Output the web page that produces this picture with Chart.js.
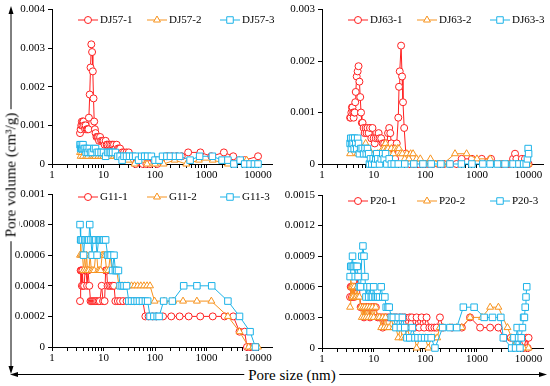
<!DOCTYPE html>
<html>
<head>
<meta charset="utf-8">
<script src="https://cdn.jsdelivr.net/npm/chart.js@4.4.0/dist/chart.umd.min.js"></script>
<style>
  body { margin: 0; background: #fff; }
  #wrap { position: relative; width: 550px; height: 386px; overflow: hidden; font-family: "Liberation Serif", "Times New Roman", serif; color: #000; }
  .panel { position: absolute; }
  #ylab { position: absolute; left: 11px; top: 175px; transform: translate(-50%, -50%) rotate(-90deg); font-size: 15px; white-space: nowrap; background: #fff; padding: 0 4px; }
  #xlab { position: absolute; left: 292px; top: 375px; transform: translate(-50%, -50%); font-size: 15px; white-space: nowrap; background: #fff; padding: 0 4px; }
  svg { position: absolute; left: 0; top: 0; }
</style>
</head>
<body>
<div id="wrap">
  <svg width="550" height="386">
    <line x1="11" y1="12" x2="11" y2="368" stroke="#000" stroke-width="1" />
    <polygon points="11,6 8.5,14 13.5,14" fill="#000" />
    <polygon points="11,374 8.5,366 13.5,366" fill="#000" />
    <line x1="16" y1="374.5" x2="541" y2="374.5" stroke="#000" stroke-width="1" />
    <polygon points="10,374.5 18,372 18,377" fill="#000" />
    <polygon points="547,374.5 539,372 539,377" fill="#000" />
  </svg>
  <canvas class="panel" id="c1" width="278" height="184" style="left:0px;top:0px"></canvas>
  <canvas class="panel" id="c2" width="280" height="184" style="left:270px;top:0px"></canvas>
  <canvas class="panel" id="c3" width="278" height="187" style="left:0px;top:180px"></canvas>
  <canvas class="panel" id="c4" width="280" height="188" style="left:270px;top:180px"></canvas>
  <div id="ylab">Pore volume (cm³/g)</div>
  <div id="xlab">Pore size (nm)</div>
</div>
<script>
// pore size (nm), pore volume (cm3/g)
const dj57Names = ["DJ57-1", "DJ57-2", "DJ57-3"];
const dj57_1 = [[3.5,0.0008],[3.6,0.0009],[3.7,0.001],[3.8,0.0011],[3.9,0.001],[4.0,0.0011],[4.1,0.0011],[4.2,0.001],[4.4,0.0009],[4.5,0.001],[4.7,0.0009],[4.9,0.0009],[5.1,0.0009],[5.2,0.0012],[5.4,0.0018],[5.6,0.0025],[5.8,0.0031],[6.0,0.0029],[6.2,0.0024],[6.4,0.0017],[6.6,0.0011],[6.8,0.0009],[7.0,0.0008],[7.3,0.0007],[7.6,0.0007],[7.9,0.0007],[8.2,0.0006],[8.6,0.0007],[9.0,0.0006],[9.5,0.0006],[10,0.0006],[10.5,0.0005],[11,0.0006],[11.5,0.0005],[12,0.0005],[13,0.0005],[14,0.0005],[15,0.0005],[16,0.0005],[17,0.0004],[18,0.0005],[19,0.0004],[20,0.0004],[21,0.0004],[23,0.0003],[25,0.0003],[28,0.0003],[31,0.0003],[42,0],[50,0.0001],[58,0],[68,0],[80,0],[95,0.0001],[110,0],[130,0.0001],[170,0.0002],[210,0.0002],[260,0.0002],[330,0.0002],[440,0.0003],[760,0.0003],[1240,0.0002],[2170,0.0003],[3300,0.0002],[5500,0.0001],[10000,0.0002]];
const dj57_2 = [[3.5,0.0003],[3.6,0.0002],[3.8,0.0003],[4.0,0.0002],[4.3,0.0003],[4.6,0.0002],[5,0.0002],[5.5,0.0003],[6,0.0002],[6.5,0.0002],[7,0.0002],[8,0.0002],[9,0.0002],[10,0.0002],[12,0.0002],[14,0.0002],[16,0.0002],[18,0.0002],[20,0.0002],[24,0.0002],[30,0.0001],[40,0],[55,0.0001],[70,0],[100,0],[147,0],[240,0.0001],[405,0],[710,0.0001],[1320,0.0001],[2600,0],[4300,0.0001],[6000,0.0001],[8000,0],[10000,0]];
const dj57_3 = [[3.5,0.0005],[3.6,0.0004],[3.7,0.0005],[3.8,0.0004],[3.9,0.0004],[4.0,0.0005],[4.2,0.0004],[4.4,0.0004],[4.6,0.0003],[4.8,0.0004],[5.0,0.0003],[5.3,0.0004],[5.6,0.0003],[6.0,0.0003],[6.5,0.0004],[7.0,0.0004],[7.5,0.0003],[8,0.0003],[9,0.0003],[10,0.0003],[11,0.0002],[12,0.0003],[13,0.0003],[14,0.0003],[15,0.0003],[17,0.0003],[19,0.0002],[21,0.0002],[23,0.0001],[25,0.0002],[28,0.0002],[32,0.0002],[37,0.0002],[42,0.0002],[48,0.0001],[55,0.0002],[63,0.0002],[72,0.0002],[85,0.0002],[100,0.0001],[120,0.0001],[140,0.0002],[170,0.0002],[200,0.0002],[250,0.0002],[300,0.0002],[480,0.0001],[735,0.0002],[1300,0.0002],[2000,0.0001],[2600,0.0001],[3400,0],[4500,0.0001],[5500,0],[7000,0],[8500,0],[10000,0]];

const dj63Names = ["DJ63-1", "DJ63-2", "DJ63-3"];
const dj63_1 = [[3.5,0.0009],[3.6,0.0009],[3.7,0.001],[3.8,0.0011],[3.9,0.0011],[4.0,0.001],[4.1,0.0009],[4.2,0.001],[4.3,0.001],[4.4,0.0012],[4.5,0.0014],[4.7,0.0017],[4.9,0.0018],[5.1,0.0019],[5.3,0.0016],[5.5,0.0013],[5.7,0.001],[5.9,0.0008],[6.1,0.0008],[6.4,0.0007],[6.7,0.0006],[7.0,0.0007],[7.3,0.0006],[7.6,0.0007],[8.0,0.0006],[8.5,0.0007],[9.0,0.0005],[9.5,0.0007],[10,0.0005],[10.5,0.0004],[11,0.0005],[12,0.0005],[12.5,0.0006],[13,0.0005],[14,0.0005],[15,0.0004],[16,0.0004],[17,0.0003],[18,0.0004],[19,0.0006],[20,0.0007],[21,0.0006],[22,0.0004],[24,0.0003],[26,0.0001],[28,0.0004],[30,0.0009],[31,0.0015],[32,0.0018],[34,0.0023],[35.5,0.0017],[37,0.0012],[39,0.0007],[42,0.0002],[45,0.0001],[50,0],[60,0],[75,0],[90,0],[110,0],[140,0],[180,0],[230,0],[300,0],[400,0],[505,0.0001],[800,0.0001],[1240,0.0001],[1870,0.0001],[3000,0],[4200,0],[5000,0.0001],[5460,0.0002],[5800,0.0001],[6500,0],[7400,0.0001],[8500,0.0001],[9500,0],[10000,0]];
const dj63_2 = [[3.5,0.0002],[3.7,0.0003],[3.9,0.0003],[4.1,0.0004],[4.3,0.0003],[4.5,0.0003],[4.8,0.0002],[5.1,0.0003],[5.5,0.0002],[6,0.0003],[6.5,0.0003],[7,0.0004],[7.5,0.0003],[8,0.0003],[9,0.0002],[10,0.0001],[11,0.0001],[12,0.0002],[13,0.0002],[14,0.0002],[15,0.0003],[16,0.0003],[17,0.0004],[18,0.0003],[19,0.0003],[20,0.0002],[22,0.0003],[24,0.0002],[26,0.0003],[29,0.0003],[31,0.0003],[33,0.0002],[36,0.0002],[40,0.0001],[44,0.0002],[48,0.0001],[52,0.0002],[58,0.0002],[68,0.0001],[80,0.0001],[100,0],[126,0.0001],[160,0],[220,0],[376,0.0002],[630,0.0002],[1000,0.0001],[1800,0.0001],[2800,0],[4000,0],[6000,0],[8000,0],[10000,0]];
const dj63_3 = [[3.5,0.0004],[3.6,0.0005],[3.7,0.0003],[3.8,0.0004],[3.9,0.0005],[4.0,0.0004],[4.2,0.0003],[4.3,0.0005],[4.5,0.0004],[4.7,0.0003],[4.9,0.0005],[5.1,0.0004],[5.3,0.0002],[5.6,0.0003],[6.0,0.0003],[6.4,0.0002],[6.8,0.0003],[7.2,0.0002],[7.6,0.0003],[8.0,0.0002],[8.3,0],[8.7,0.0001],[9.2,0],[9.8,0.0001],[10.5,0],[11,0.0001],[11.5,0.0002],[12,0.0001],[13,0],[14,0.0001],[15,0.0002],[16,0.0001],[17,0.0002],[18,0],[20,0.0001],[22,0],[25,0],[30,0],[40,0],[60,0],[90,0],[130,0],[200,0],[300,0],[500,0],[800,0],[1300,0],[1800,0],[2500,0],[3500,0],[5000,0],[6500,0],[8000,0],[9000,0],[9500,0.0001],[9800,0.0003],[10000,0.0002]];

const g11Names = ["G11-1", "G11-2", "G11-3"];
const g11_1 = [[3.5,0.0003],[3.6,0.0005],[3.7,0.0005],[3.8,0.0004],[3.9,0.0005],[4.0,0.0004],[4.2,0.0004],[4.4,0.0005],[4.6,0.0005],[4.8,0.0004],[5.0,0.0005],[5.3,0.0004],[5.6,0.0003],[5.9,0.0003],[6.2,0.0003],[6.5,0.0003],[6.8,0.0003],[7.1,0.0003],[7.5,0.0003],[8,0.0003],[8.5,0.0003],[9.2,0.0004],[9.8,0.0003],[10.5,0.0003],[11,0.0005],[11.5,0.0005],[12,0.0004],[13,0.0004],[14,0.0004],[15,0.0004],[16,0.0004],[17,0.0003],[19,0.0003],[21,0.0003],[24,0.0003],[28,0.0003],[33,0.0003],[40,0.0003],[50,0.0003],[58,0.0003],[65,0.0002],[75,0.0002],[90,0.0002],[106,0.0002],[143,0.0002],[207,0.0002],[300,0.0002],[450,0.0002],[755,0.0002],[1320,0.0002],[2240,0.0002],[3300,0.0002],[4370,0.0001],[5500,0.0001],[6100,0],[7000,0],[8000,0],[9200,0]];
const g11_2 = [[3.5,0.0006],[3.6,0.0007],[3.7,0.0006],[3.9,0.0006],[4.1,0.0005],[4.3,0.0006],[4.5,0.0005],[4.7,0.0006],[4.9,0.0005],[5.2,0.0005],[5.5,0.0006],[5.8,0.0005],[6.2,0.0005],[6.6,0.0005],[7.0,0.0006],[7.4,0.0006],[7.8,0.0005],[8.3,0.0005],[8.8,0.0005],[9.4,0.0006],[10,0.0006],[10.7,0.0006],[11.5,0.0005],[12.5,0.0005],[13.5,0.0006],[14.5,0.0005],[16,0.0005],[18,0.0005],[20,0.0004],[23,0.0004],[26,0.0004],[30,0.0004],[35,0.0004],[40,0.0004],[46,0.0004],[53,0.0004],[61,0.0004],[70,0.0004],[80,0.0004],[98,0.0003],[150,0.0003],[225,0.0003],[350,0.0003],[650,0.0003],[1240,0.0003],[2600,0.0002],[4370,0.0001],[6600,0],[8000,0],[10000,0]];
const g11_3 = [[3.5,0.0008],[3.6,0.0007],[3.7,0.0007],[3.9,0.0007],[4.1,0.0006],[4.3,0.0007],[4.6,0.0007],[4.9,0.0007],[5.2,0.0007],[5.4,0.0008],[5.7,0.0007],[6.0,0.0006],[6.3,0.0007],[6.7,0.0007],[7.1,0.0007],[7.5,0.0006],[8.0,0.0007],[8.5,0.0007],[9,0.0007],[9.6,0.0007],[10.2,0.0007],[11,0.0007],[12,0.0006],[13,0.0006],[14,0.0006],[15,0.0005],[16,0.0006],[17,0.0005],[18,0.0005],[19.5,0.0005],[21,0.0004],[23,0.0004],[25,0.0004],[28,0.0004],[31,0.0003],[35,0.0003],[40,0.0003],[45,0.0003],[50,0.0003],[57,0.0003],[65,0.0003],[72,0.0003],[80,0.0002],[95,0.0002],[110,0.0002],[120,0.0002],[147,0.0003],[217,0.0003],[360,0.0004],[650,0.0004],[1260,0.0004],[2600,0.0003],[4370,0.0002],[7000,0.0001],[8900,0]];

const p20Names = ["P20-1", "P20-2", "P20-3"];
const p20_1 = [[3.5,0.0005],[3.6,0.0006],[3.7,0.0006],[3.8,0.0005],[3.9,0.0006],[4.0,0.0006],[4.2,0.0005],[4.4,0.0006],[4.6,0.0006],[4.8,0.0007],[5.0,0.0006],[5.3,0.0006],[5.6,0.0004],[5.9,0.0004],[6.2,0.0004],[6.5,0.0003],[6.8,0.0004],[7.2,0.0004],[7.6,0.0004],[8,0.0004],[8.5,0.0003],[9,0.0004],[9.5,0.0004],[10,0.0004],[11,0.0004],[12,0.0003],[13,0.0003],[14,0.0003],[15,0.0002],[16,0.0003],[18,0.0003],[20,0.0003],[22,0.0003],[25,0.0003],[28,0.0003],[32,0.0003],[36,0.0003],[40,0.0003],[44,0.0002],[50,0.0003],[55,0.0003],[62,0.0002],[68,0.0003],[76,0.0002],[85,0.0003],[95,0.0002],[106,0.0003],[120,0.0002],[133,0.0002],[150,0.0002],[166,0.0002],[192,0.0003],[220,0.0002],[330,0.0002],[510,0.0002],[735,0.0003],[1150,0.0002],[1800,0.0002],[2600,0.0002],[3360,0.0001],[4500,0.0001],[5900,0.0001],[7000,0.0001],[8000,0],[9200,0.0001],[9600,0],[10000,0.0001]];
const p20_2 = [[3.5,0.0004],[3.6,0.0007],[3.7,0.0006],[3.8,0.0005],[3.9,0.0006],[4.0,0.0005],[4.2,0.0006],[4.4,0.0005],[4.6,0.0005],[4.8,0.0006],[5.0,0.0005],[5.3,0.0005],[5.6,0.0004],[5.9,0.0003],[6.2,0.0004],[6.5,0.0003],[6.8,0.0004],[7.2,0.0003],[7.6,0.0004],[8,0.0003],[8.5,0.0004],[9,0.0003],[9.5,0.0004],[10,0.0003],[11,0.0004],[12,0.0003],[13,0.0003],[14,0.0002],[15,0.0003],[16,0.0002],[17,0.0003],[18,0.0002],[20,0.0002],[22,0.0003],[24,0.0002],[27,0.0002],[30,0.0001],[33,0.0002],[36,0.0001],[40,0.0001],[45,0.0002],[50,0.0001],[56,0.0001],[62,0.0001],[68,0],[78,0.0001],[90,0.0001],[100,0.0001],[114,0],[130,0.0001],[150,0.0001],[170,0.0001],[190,0.0002],[217,0.0002],[300,0.0002],[405,0.0002],[505,0.0002],[735,0.0003],[1250,0.0003],[1800,0.0004],[2600,0.0004],[3900,0.0002],[4700,0.0001],[5500,0],[6500,0],[8000,0],[10000,0]];
const p20_3 = [[3.5,0.0007],[3.6,0.0008],[3.7,0.0008],[3.9,0.0009],[4.0,0.0008],[4.2,0.0008],[4.4,0.0007],[4.6,0.0008],[4.8,0.0008],[5.0,0.0007],[5.3,0.0006],[5.6,0.0006],[5.9,0.0009],[6.2,0.001],[6.5,0.0009],[6.8,0.0007],[7.1,0.0005],[7.5,0.0006],[8,0.0005],[8.5,0.0006],[9,0.0005],[9.5,0.0005],[10,0.0006],[10.6,0.0005],[11.2,0.0005],[12,0.0005],[13,0.0005],[14,0.0006],[15,0.0005],[16.5,0.0005],[17.5,0.0004],[19,0.0004],[20,0.0004],[22,0.0003],[24,0.0003],[27,0.0002],[30,0.0003],[33,0.0002],[36,0.0003],[40,0.0002],[44,0.0001],[50,0.0001],[56,0.0002],[63,0.0001],[72,0.0001],[84,0.0001],[97,0.0001],[112,0.0001],[130,0.0001],[154,0],[217,0.0002],[300,0.0002],[405,0.0002],[545,0.0004],[880,0.0004],[1380,0.0003],[2000,0.0003],[2900,0.0003],[3240,0.0001],[4700,0],[5200,0.0001],[5600,0],[6000,0.0002],[6400,0.0001],[6800,0],[7200,0.0001],[7600,0.0002],[8000,0.0003],[8300,0.0003],[8600,0.0004],[8900,0.0005],[9200,0.0006]];

const xLabels = [1, 10, 100, 1000, 10000];

const colors = ["#ff2020", "#f7931e", "#1db3e8"];
const markers = ["circle", "triangle", "rect"];
const markerSize = [3.5, 4, 4.6];

Chart.defaults.font.family = '"Liberation Serif", "Times New Roman", serif';
Chart.defaults.font.size = 11;
Chart.defaults.color = "#000";

// tick marks at 1..9 of every decade
const xTickVals = [];
for (let e = 0; e < 4; e++) {
  for (let k = 1; k < 10; k++) xTickVals.push(k * Math.pow(10, e));
}
xTickVals.push(10000);

const legendPlugin = {
  id: "innerLegend",
  afterDraw(chart, args, opts) {
    const ctx = chart.ctx;
    const offs = [26, 95, 168];
    ctx.save();
    chart.data.datasets.forEach((ds, i) => {
      const x0 = chart.chartArea.left + offs[i];
      const y = opts.y;
      ctx.strokeStyle = ds.borderColor;
      ctx.lineWidth = 1;
      ctx.beginPath();
      ctx.moveTo(x0, y);
      ctx.lineTo(x0 + 20, y);
      ctx.stroke();
      ctx.fillStyle = "#fff";
      Chart.helpers.drawPoint(ctx, { pointStyle: ds.pointStyle, radius: ds.pointRadius, borderWidth: 1, rotation: 0 }, x0 + 10, y);
      ctx.fillStyle = "#000";
      ctx.font = '11px "Liberation Serif", "Times New Roman", serif';
      ctx.textBaseline = "middle";
      ctx.textAlign = "left";
      ctx.fillText(ds.label, x0 + 22, y);
    });
    ctx.restore();
  },
};

function makeChart(id, names, series, yMax, yStep, padTop, bottom, legendY) {
  const canvas = document.getElementById(id);
  const datasets = series.map((pts, i) => ({
    label: names[i],
    data: pts.map((p) => ({ x: p[0], y: p[1] })),
    showLine: true,
    borderColor: colors[i],
    borderWidth: 1,
    pointStyle: markers[i],
    pointRadius: markerSize[i],
    pointBorderWidth: 1,
    pointBorderColor: colors[i],
    pointBackgroundColor: "#fff",
    tension: 0,
    clip: false,
    order: 2 - i,
  }));
  return new Chart(canvas.getContext("2d"), {
    type: "scatter",
    data: { datasets },
    plugins: [legendPlugin],
    options: {
      responsive: false,
      animation: false,
      layout: { padding: { top: padTop, right: canvas.width - 273, left: 0, bottom: 0 } },
      plugins: {
        legend: { display: false },
        tooltip: { enabled: false },
        innerLegend: { y: legendY },
      },
      scales: {
        x: {
          type: "logarithmic",
          min: 1,
          max: 19000,
          afterBuildTicks: (scale) => {
            scale.ticks = xTickVals.map((v) => ({ value: v }));
          },
          afterFit: (scale) => {
            scale.height = canvas.height - bottom;
          },
          ticks: {
            autoSkip: false,
            maxRotation: 0,
            padding: 1,
            callback: (v) => (xLabels.includes(v) ? String(v) : ""),
          },
          grid: { drawOnChartArea: false, tickLength: 4, tickColor: "#000" },
          border: { color: "#000", width: 1 },
        },
        y: {
          min: 0,
          max: yMax,
          afterFit: (scale) => {
            scale.width = 52;
          },
          ticks: {
            stepSize: yStep,
            padding: 3,
            callback: (v) => (v === 0 ? "0" : String(+v.toFixed(4))),
          },
          grid: { drawOnChartArea: false, tickLength: 4, tickColor: "#000" },
          border: { color: "#000", width: 1 },
        },
      },
    },
  });
}

makeChart("c1", dj57Names, [dj57_1, dj57_2, dj57_3], 0.004, 0.001, 9, 164, 20);
makeChart("c2", dj63Names, [dj63_1, dj63_2, dj63_3], 0.003, 0.001, 9, 164, 20);
makeChart("c3", g11Names, [g11_1, g11_2, g11_3], 0.001, 0.0002, 14, 167, 17);
makeChart("c4", p20Names, [p20_1, p20_2, p20_3], 0.0015, 0.0003, 15, 168, 21);
</script>
</body>
</html>
